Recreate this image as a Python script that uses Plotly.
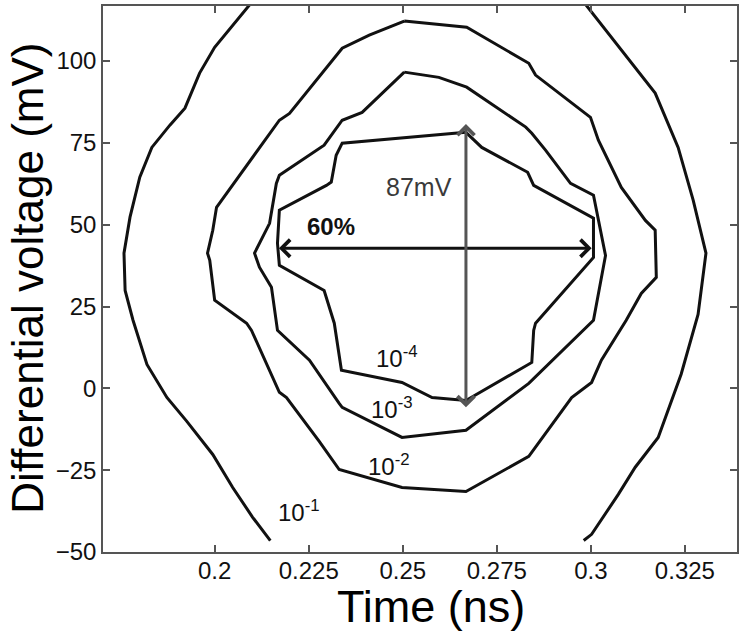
import plotly.graph_objects as go

# ---- BER contour lines of the receiver eye (time in ns, voltage in mV) ----
ber1_left_t = [0.2099, 0.2048, 0.2000, 0.1960, 0.1921, 0.1881, 0.1833, 0.1801, 0.1775,
               0.1759, 0.1762, 0.1783, 0.1820, 0.1873, 0.1926, 0.1995, 0.2048, 0.2101, 0.2148]
ber1_left_v = [118.0, 110.9, 104.2, 96.3, 85.6, 80.4, 73.6, 64.5, 52.3,
               41.3, 29.9, 20.8, 7.3, -2.8, -10.1, -20.2, -30.3, -39.4, -46.5]

ber1_right_t = [0.2981, 0.3081, 0.3171, 0.3232, 0.3272, 0.3306, 0.3293, 0.3285, 0.3240,
                0.3179, 0.3118, 0.3073, 0.3002, 0.2981]
ber1_right_v = [118.0, 103.3, 90.2, 73.6, 57.5, 41.3, 29.9, 22.6, 4.3,
                -15.0, -24.1, -32.4, -44.6, -46.5]

ber2_t = [0.2504, 0.2670, 0.2835, 0.2853, 0.2999, 0.3020, 0.3081, 0.3145, 0.3171, 0.3174,
          0.3134, 0.3094, 0.3028, 0.3002, 0.2949, 0.2835, 0.2668, 0.2498, 0.2331, 0.2278,
          0.2191, 0.2172, 0.2098, 0.2085, 0.2000, 0.1987, 0.1981, 0.1995, 0.2005, 0.2172,
          0.2199, 0.2233, 0.2339, 0.2411, 0.2504]
ber2_v = [112.2, 110.3, 99.3, 95.7, 82.8, 75.8, 61.4, 51.3, 48.3, 33.9,
          29.0, 20.8, 8.6, 1.8, -2.8, -20.8, -31.5, -30.3, -24.8, -16.2,
          -2.8, -1.2, 17.7, 19.9, 26.9, 39.1, 41.3, 48.3, 55.3, 81.9,
          84.0, 88.9, 103.9, 107.9, 112.2]

ber3_t = [0.2504, 0.2596, 0.2670, 0.2827, 0.2843, 0.2880, 0.2946, 0.3007, 0.3039, 0.3007,
          0.2835, 0.2668, 0.2498, 0.2339, 0.2331, 0.2252, 0.2167, 0.2154, 0.2151, 0.2119,
          0.2106, 0.2146, 0.2164, 0.2172, 0.2291, 0.2339, 0.2392, 0.2504]
ber3_v = [96.6, 95.0, 92.0, 79.8, 77.9, 72.7, 62.6, 59.0, 40.6, 20.8,
          1.5, -12.8, -15.0, -5.8, -4.6, 8.6, 17.7, 29.9, 30.9, 37.0,
          41.3, 50.4, 62.6, 65.1, 74.3, 81.9, 84.3, 96.6]

ber4_t = [0.2668, 0.2710, 0.2832, 0.2848, 0.3007, 0.3007, 0.2853, 0.2848, 0.2843, 0.2668,
          0.2578, 0.2498, 0.2337, 0.2318, 0.2291, 0.2172, 0.2167, 0.2172, 0.2297, 0.2310,
          0.2323, 0.2339, 0.2668]
ber4_v = [78.2, 73.6, 66.0, 62.0, 52.0, 40.0, 19.9, 17.7, 7.9, -3.7,
          -2.8, 1.8, 5.5, 19.9, 29.9, 37.6, 44.3, 54.4, 62.0, 63.0,
          71.2, 74.9, 78.2]

# ---- eye opening measurements ----
unit_interval_ns = 0.1392
eye_width_frac = 0.60          # shown as "60%"
eye_center_ns = 0.25845
eye_width_level_mv = 42.8
eye_height_mv = 87             # shown as "87mV"
eye_height_center_mv = 37.25
eye_height_time_ns = 0.2668

# ---- axes ----
x_range = [0.17032, 0.33885]
y_range = [-50, 116.8]
x_ticks = [0.2, 0.225, 0.25, 0.275, 0.3, 0.325]
x_ticktext = ["0.2", "0.225", "0.25", "0.275", "0.3", "0.325"]
y_ticks = [-50, -25, 0, 25, 50, 75, 100]

FONT = "Liberation Sans, Arial, Helvetica, sans-serif"
LINE = dict(color="#111111", width=3)

fig = go.Figure()
for t, v in [(ber1_left_t, ber1_left_v), (ber1_right_t, ber1_right_v),
             (ber2_t, ber2_v), (ber3_t, ber3_v), (ber4_t, ber4_v)]:
    fig.add_trace(go.Scatter(x=t, y=v, mode="lines", line=LINE,
                             showlegend=False, hoverinfo="skip"))

half_w = unit_interval_ns * eye_width_frac / 2
annotations = [
    # eye width double arrow
    dict(x=eye_center_ns + half_w, y=eye_width_level_mv,
         ax=eye_center_ns - half_w, ay=eye_width_level_mv,
         xref="x", yref="y", axref="x", ayref="y", text="",
         showarrow=True, arrowside="end+start", arrowhead=4, startarrowhead=4,
         arrowsize=1.1, startarrowsize=1.1, arrowwidth=3, arrowcolor="#111111"),
    # eye height double arrow
    dict(x=eye_height_time_ns, y=eye_height_center_mv + eye_height_mv / 2,
         ax=eye_height_time_ns, ay=eye_height_center_mv - eye_height_mv / 2,
         xref="x", yref="y", axref="x", ayref="y", text="",
         showarrow=True, arrowside="end+start", arrowhead=4, startarrowhead=4,
         arrowsize=1.1, startarrowsize=1.1, arrowwidth=3, arrowcolor="#555555"),
    dict(x=0.2310, y=49.5, xref="x", yref="y", text="<b>%d%%</b>" % round(eye_width_frac * 100),
         showarrow=False, font=dict(family=FONT, size=24, color="#111111")),
    dict(x=0.2544, y=61.4, xref="x", yref="y", text="%dmV" % eye_height_mv,
         showarrow=False, font=dict(family=FONT, size=25, color="#3a3a3a")),
]

# contour level labels
level_labels = ["10<sup>-1</sup>", "10<sup>-2</sup>", "10<sup>-3</sup>", "10<sup>-4</sup>"]
level_label_t = [0.2164, 0.2403, 0.2411, 0.2424]
level_label_v = [-37.4, -23.5, -6.0, 9.6]
for txt, t, v in zip(level_labels, level_label_t, level_label_v):
    annotations.append(dict(x=t, y=v, xref="x", yref="y", text=txt, showarrow=False,
                            xanchor="left", yanchor="middle",
                            font=dict(family=FONT, size=24, color="#111111")))

# axis titles
annotations.append(dict(x=0.518, y=-0.1, xref="paper", yref="paper", text="Time (ns)",
                        showarrow=False, xanchor="center", yanchor="middle",
                        font=dict(family=FONT, size=45, color="#000000")))
annotations.append(dict(x=-0.1197, y=0.5008, xref="paper", yref="paper",
                        text="Differential voltage (mV)", textangle=-90,
                        showarrow=False, xanchor="center", yanchor="middle",
                        font=dict(family=FONT, size=44, color="#000000")))

axis_common = dict(showline=True, linecolor="#555555", linewidth=1.5, mirror="ticks",
                   ticks="inside", ticklen=7, tickwidth=1.5, tickcolor="#555555",
                   showgrid=False, zeroline=False,
                   tickfont=dict(family=FONT, size=24, color="#111111"))

fig.update_layout(
    width=740, height=634,
    margin=dict(l=103, r=1, t=6, b=82),
    paper_bgcolor="white", plot_bgcolor="white",
    xaxis=dict(range=x_range, tickvals=x_ticks, ticktext=x_ticktext,
               ticklabelstandoff=-4, **axis_common),
    yaxis=dict(range=y_range, tickvals=y_ticks, **axis_common),
    annotations=annotations,
)

fig.write_html("out.html")
